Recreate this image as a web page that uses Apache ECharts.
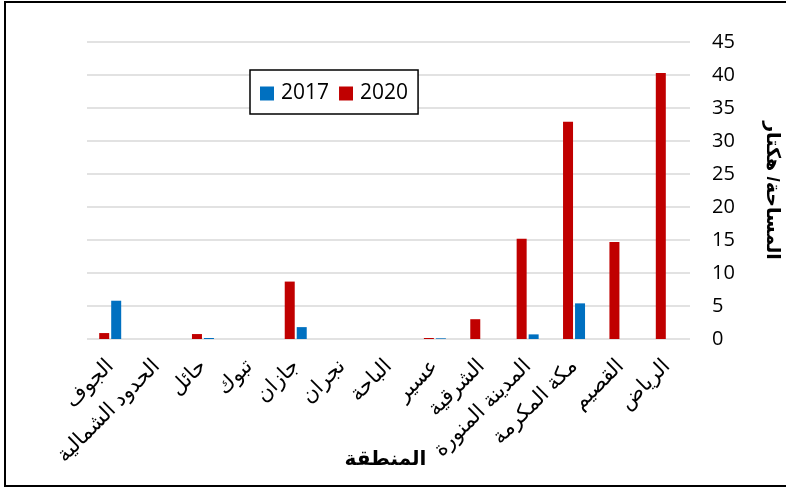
<!DOCTYPE html>
<html>
<head>
<meta charset="utf-8">
<style>
  html, body { margin: 0; padding: 0; background: #fff; }
  #chart { width: 786px; height: 487px; }
</style>
<script src="https://cdn.jsdelivr.net/npm/echarts@6/dist/echarts.min.js"></script>
</head>
<body>
<div id="chart"></div>
<script>
// Regions, left to right along the category axis
const regions = ['الجوف', 'الحدود الشمالية', 'حائل', 'تبوك', 'جازان', 'نجران', 'الباحة',
  'عسير', 'الشرقية', 'المدينة المنورة', 'مكة المكرمة', 'القصيم', 'الرياض'];

// Area in hectares per region
const area2020 = [0.9, 0, 0.75, 0, 8.7, 0, 0, 0.15, 3.0, 15.2, 32.9, 14.7, 40.3];
const area2017 = [5.8, 0, 0.15, 0, 1.8, 0, 0, 0.1, 0, 0.7, 5.4, 0, 0];

const yTicks = { min: 0, max: 45, interval: 5 };

const FONT = '"Liberation Sans", "DejaVu Sans", Arial, sans-serif';

const chart = echarts.init(document.getElementById('chart'), null, { renderer: 'canvas' });

chart.setOption({
  animation: false,
  backgroundColor: '#ffffff',
  textStyle: { fontFamily: FONT },
  grid: { left: 87, right: 96, top: 42, bottom: 148, containLabel: false, outerBoundsMode: 'none' },
  legend: {
    data: ['2017', '2020'],
    left: 250,
    top: 70,
    width: 170,
    height: 46,
    padding: [13, 10, 10, 10],
    itemGap: 10,
    itemWidth: 14,
    itemHeight: 14,
    icon: 'rect',
    borderColor: '#000',
    borderWidth: 1.5,
    backgroundColor: '#fff',
    textStyle: { fontSize: 21, color: '#000', fontFamily: '"Open Sans", ' + FONT, padding: [0, 0, 0, 2] }
  },
  xAxis: {
    type: 'category',
    data: regions,
    name: 'المنطقة',
    nameLocation: 'middle',
    nameGap: 110,
    nameMoveOverlap: false,
    nameTextStyle: { fontSize: 20, fontWeight: 'bold', color: '#000', padding: [0, 6, 0, 0] },
    axisLine: { show: false },
    axisTick: { show: false },
    axisLabel: { rotate: 45, interval: 0, fontSize: 21, color: '#000', margin: 24 }
  },
  yAxis: {
    type: 'value',
    position: 'right',
    min: yTicks.min,
    max: yTicks.max,
    interval: yTicks.interval,
    name: 'المساحة/ هكتار',
    nameLocation: 'middle',
    nameRotate: -90,
    nameGap: 73,
    nameMoveOverlap: false,
    nameTextStyle: { fontSize: 19, fontWeight: 'bold', color: '#000' },
    axisLine: { show: false },
    axisTick: { show: false },
    axisLabel: { fontSize: 20, color: '#000', margin: 22, fontFamily: '"Open Sans", ' + FONT },
    splitLine: { lineStyle: { color: '#d9d9d9', width: 1.5 } }
  },
  series: [
    {
      name: '2020',
      type: 'bar',
      data: area2020,
      barWidth: 10,
      barGap: '20%',
      itemStyle: { color: '#C00000' }
    },
    {
      name: '2017',
      type: 'bar',
      data: area2017,
      barWidth: 10,
      itemStyle: { color: '#0070C0' }
    }
  ],
  graphic: [
    {
      type: 'rect',
      shape: { x: 5, y: 2, width: 800, height: 484 },
      style: { fill: 'none', stroke: '#000', lineWidth: 2 },
      silent: true,
      z: 100
    }
  ]
});
</script>
</body>
</html>
